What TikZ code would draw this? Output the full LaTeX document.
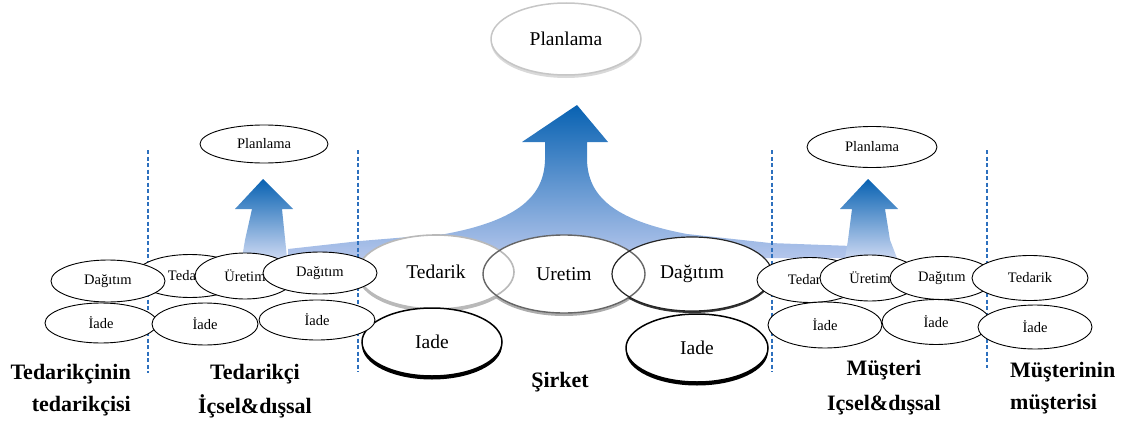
\documentclass[tikz,border=0pt]{standalone}
\usepackage{fontspec}
\setmainfont{Liberation Serif}
\usetikzlibrary{shapes.geometric}
\definecolor{arrowtop}{RGB}{8,98,178}
\definecolor{arrowbot}{RGB}{180,198,236}
\definecolor{dashblue}{RGB}{45,112,190}
\begin{document}
\begin{tikzpicture}[x=1pt,y=-1pt,
  smallov/.style={ellipse, fill=white, draw=black, line width=0.9pt, inner sep=0pt,
                  font=\fontsize{14.5}{16}\selectfont},
  bigov/.style={ellipse, fill=white, inner sep=0pt, font=\fontsize{19.5}{22}\selectfont},
  lbl/.style={font=\bfseries\fontsize{22}{32}\selectfont, inner sep=0pt},
  divider/.style={dashblue, line width=1.3pt, dash pattern=on 4pt off 2.5pt}]
\useasboundingbox (0,0) rectangle (1125,423);

% ---- rising arrows (company in the middle, partners at the sides)
\shade[top color=arrowtop, bottom color=arrowbot]
  (577,105) -- (608,142) -- (587,142) -- (587,160)
  .. controls (588,195) and (612,220) .. (687,234)
  -- (770,243) -- (852,246) -- (852,258) -- (288,258) -- (288,249)
  -- (360,241) -- (445,234)
  .. controls (520,220) and (544,195) .. (545,160)
  -- (545,142) -- (522,142) -- cycle;
\shade[top color=arrowtop, bottom color=arrowbot!70!white]
  (263,179) -- (293,209) -- (282,209) -- (286,248) -- (287,258) -- (242,258)
  -- (245,240) -- (252,209) -- (235,209) -- cycle;
\shade[top color=arrowtop, bottom color=arrowbot!70!white]
  (868,179) -- (898,209) -- (885,209) -- (890,240) -- (897,258) -- (845,258)
  -- (848,240) -- (852,209) -- (840,209) -- cycle;

% ---- dividers between the chain members
\foreach \i/\x/\yb in {1/148/373, 2/358/372, 3/772/372, 4/987/368}{
  \coordinate (d\i top) at (\x,150);
  \coordinate (d\i bot) at (\x,\yb);
  \draw[divider] (d\i top) -- (d\i bot);
}

% ---- company: supply, production, distribution, returns
\fill[gray!55] (436,275) ellipse[x radius=78pt, y radius=37pt];
\fill[gray!65] (564,277) ellipse[x radius=81pt, y radius=39pt];
\fill[black!80] (692,276) ellipse[x radius=80pt, y radius=37pt];
\node[bigov, minimum width=156pt, minimum height=74pt] (ted) at (436,272) {Tedarik};
\node[bigov, minimum width=162pt, minimum height=78pt] (ure) at (564,274) {Uretim};
\node[bigov, minimum width=160pt, minimum height=74pt] (dag) at (692,274) {Dağıtım};
\draw[gray!55, line width=1.6pt] (ted.center) ellipse[x radius=78pt, y radius=37pt];
\draw[black!60, line width=1.4pt] (ure.center) ellipse[x radius=81pt, y radius=39pt];
\draw[black!85, line width=1.2pt] (dag.center) ellipse[x radius=80pt, y radius=37pt];
\node[bigov] at (ted.center) {Tedarik};
\node[bigov] at (ure.center) {Uretim};

\fill[black] (432,345.5) ellipse[x radius=70pt, y radius=34pt];
\node[bigov, draw=black, line width=1.5pt, minimum width=140pt, minimum height=68pt] (iadeL) at (432,342) {Iade};
\fill[black] (697,351.5) ellipse[x radius=71pt, y radius=34pt];
\node[bigov, draw=black, line width=1.5pt, minimum width=142pt, minimum height=68pt] (iadeR) at (697,348) {Iade};

% ---- supplier side
\node[smallov, minimum width=110pt, minimum height=43pt] (sTed) at (190,276) {Tedarik};
\node[smallov, minimum width=114pt, minimum height=42pt] (sDag1) at (108,281) {Dağıtım};
\node[smallov, minimum width=100pt, minimum height=46pt] (sUre) at (245,276) {Üretim};
\node[smallov, minimum width=114pt, minimum height=42pt] (sDag2) at (320,273) {Dağıtım};
\node[smallov, minimum width=112pt, minimum height=40pt] (sIade1) at (101,323) {İade};
\node[smallov, minimum width=106pt, minimum height=42pt] (sIade2) at (205,324) {İade};
\node[smallov, minimum width=116pt, minimum height=40pt] (sIade3) at (317,320) {İade};

% ---- customer side
\node[smallov, minimum width=106pt, minimum height=45pt] (cTed) at (810,280) {Tedarik};
\node[smallov, minimum width=100pt, minimum height=46pt] (cUre) at (870,278) {Üretim};
\node[smallov, minimum width=104pt, minimum height=43pt] (cDag) at (942,278) {Dağıtım};
\node[smallov, minimum width=116pt, minimum height=45pt] (cTed2) at (1030,278) {Tedarik};
\node[smallov, minimum width=114pt, minimum height=46pt] (cIade1) at (825,325) {İade};
\node[smallov, minimum width=108pt, minimum height=45pt] (cIade2) at (936,322) {İade};
\node[smallov, minimum width=114pt, minimum height=44pt] (cIade3) at (1035,327) {İade};

% ---- planning
\fill[gray!30] (566,42) ellipse[x radius=75pt, y radius=36pt];
\node[bigov, draw=gray!45, line width=1.5pt, minimum width=150pt, minimum height=72pt] (plan) at (566,39) {Planlama};
\node[smallov, minimum width=128pt, minimum height=38pt] (planS) at (264,144) {Planlama};
\node[smallov, minimum width=130pt, minimum height=41pt] (planC) at (872,147) {Planlama};

% ---- member labels
\node[lbl, align=right, anchor=north east] (lSS) at (131,364) {Tedarikçinin\\tedarikçisi};
\node[lbl, align=center, anchor=north] (lS) at (255,364) {Tedarikçi\\[2pt]İçsel\&dışsal};
\node[lbl] (lF) at (560,382) {Şirket};
\node[lbl, align=center, anchor=north] (lC) at (884,360) {Müşteri\\[3pt]Içsel\&dışsal};
\node[lbl, align=left, anchor=north west] (lCC) at (1010,362) {Müşterinin\\müşterisi};
\end{tikzpicture}
\end{document}
